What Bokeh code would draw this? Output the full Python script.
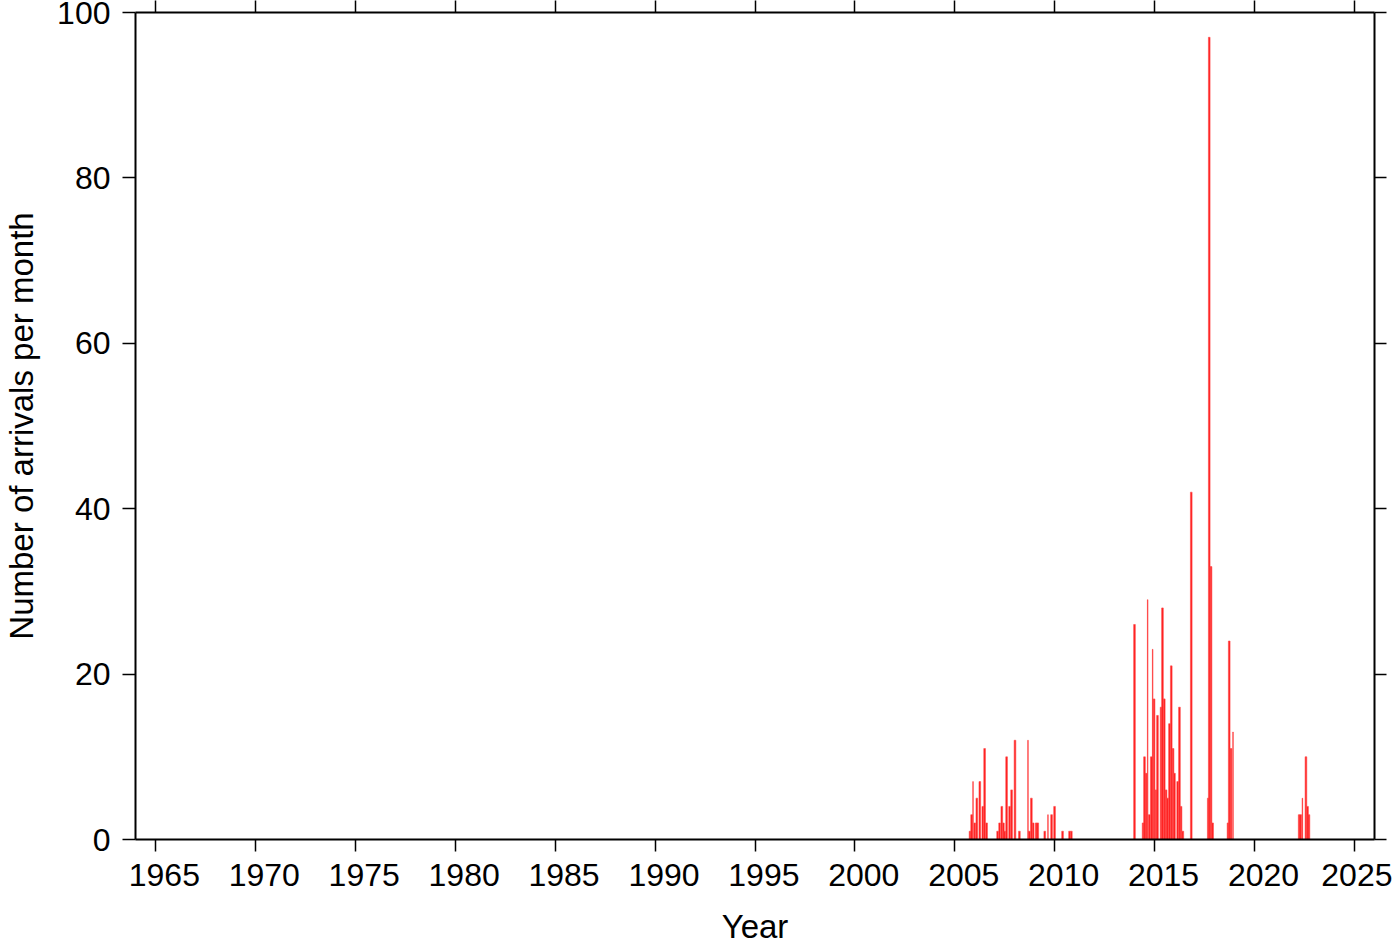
from bokeh.plotting import figure
from bokeh.models import Range1d, FixedTicker, LinearAxis, CustomJSTickFormatter, ColumnDataSource
from bokeh.embed import file_html
from bokeh.resources import INLINE

# Monthly arrival counts (decimal year of month bin, count)
month_years = [2005.76, 2005.84, 2006.00, 2006.10, 2006.25, 2006.40, 2006.49, 2006.59,
               2007.14, 2007.24, 2007.35, 2007.43, 2007.50, 2007.59, 2007.74, 2007.84,
               2008.01, 2008.23, 2008.73, 2008.83, 2008.92, 2009.07, 2009.15, 2009.50,
               2009.84, 2009.99, 2010.39, 2010.74, 2010.83,
               2013.99, 2014.42, 2014.49, 2014.57, 2014.73, 2014.83, 2014.97, 2015.07,
               2015.14, 2015.32, 2015.39, 2015.48, 2015.57, 2015.65, 2015.74, 2015.83,
               2015.92, 2015.99, 2016.15, 2016.24, 2016.32, 2016.41,
               2016.83, 2017.68, 2017.73, 2017.82, 2017.90, 2018.67, 2018.73, 2018.82,
               2022.23, 2022.31, 2022.57, 2022.65, 2022.72]
month_counts = [1, 3, 2, 5, 7, 4, 11, 2,
                1, 2, 4, 2, 1, 10, 4, 6,
                12, 1, 1, 5, 2, 2, 2, 1,
                3, 4, 1, 1, 1,
                26, 2, 10, 8, 3, 10, 17, 6,
                15, 16, 28, 17, 6, 5, 14, 21,
                11, 8, 7, 16, 4, 1,
                42, 5, 97, 33, 2, 2, 24, 11,
                3, 3, 10, 4, 3]

# Narrow bars (partial-month bins)
narrow_years = [2005.91, 2008.66, 2009.66, 2014.65, 2014.90, 2018.92, 2022.39]
narrow_counts = [7, 12, 3, 29, 23, 13, 5]

x_ticks = [1965, 1970, 1975, 1980, 1985, 1990, 1995, 2000, 2005, 2010, 2015, 2020, 2025]
y_ticks = [0, 20, 40, 60, 80, 100]

FONT = "Liberation Sans"

p = figure(frame_width=1239, frame_height=827, output_backend="svg", toolbar_location=None,
           x_range=Range1d(1964, 2026), y_range=Range1d(0, 100),
           x_axis_location=None, y_axis_location=None,
           min_border_left=122, min_border_top=12, min_border_right=18, min_border_bottom=0)
p.grid.visible = False
p.outline_line_color = None
p.background_fill_color = "white"

src = ColumnDataSource(dict(x=month_years, top=month_counts))
p.vbar(x="x", top="top", width=1 / 12, bottom=0, source=src,
       fill_color="#ff1a1a", line_color="#ff4d4d", line_width=0.6)
src2 = ColumnDataSource(dict(x=narrow_years, top=narrow_counts))
p.vbar(x="x", top="top", width=0.035, bottom=0, source=src2,
       fill_color="#ff1a1a", line_color="#ff3030", line_width=0.4)


def style(ax, tick_out, labels=True):
    ax.axis_line_width = 2
    ax.axis_line_color = "black"
    ax.major_tick_line_width = 1.5
    ax.major_tick_line_color = "black"
    ax.major_tick_in = 0
    ax.major_tick_out = tick_out
    ax.minor_tick_line_color = None
    ax.major_label_text_font = FONT
    ax.major_label_text_font_size = "32px"
    ax.major_label_text_color = "black"
    ax.axis_label_text_font = FONT
    ax.axis_label_text_font_size = "33px"
    ax.axis_label_text_font_style = "normal"
    ax.axis_label_text_color = "black"
    if not labels:
        ax.formatter = CustomJSTickFormatter(code="return ''")
        ax.major_label_standoff = 0


bottom = LinearAxis(ticker=FixedTicker(ticks=x_ticks), axis_label="Year")
style(bottom, 12)
# year labels sit slightly to the right of their ticks, as in the reference
bottom.formatter = CustomJSTickFormatter(code="return '\\u00a0\\u00a0' + tick.toFixed(0)")
bottom.major_label_standoff = 5
bottom.axis_label_standoff = 12
p.add_layout(bottom, "below")

left = LinearAxis(ticker=FixedTicker(ticks=y_ticks), axis_label="Number of arrivals per month")
style(left, 13)
left.major_label_standoff = 12
left.axis_label_standoff = 14
p.add_layout(left, "left")

top = LinearAxis(ticker=FixedTicker(ticks=x_ticks))
style(top, 12, labels=False)
p.add_layout(top, "above")

right = LinearAxis(ticker=FixedTicker(ticks=y_ticks))
style(right, 12, labels=False)
p.add_layout(right, "right")

open("out.html", "w").write(file_html(p, INLINE))
